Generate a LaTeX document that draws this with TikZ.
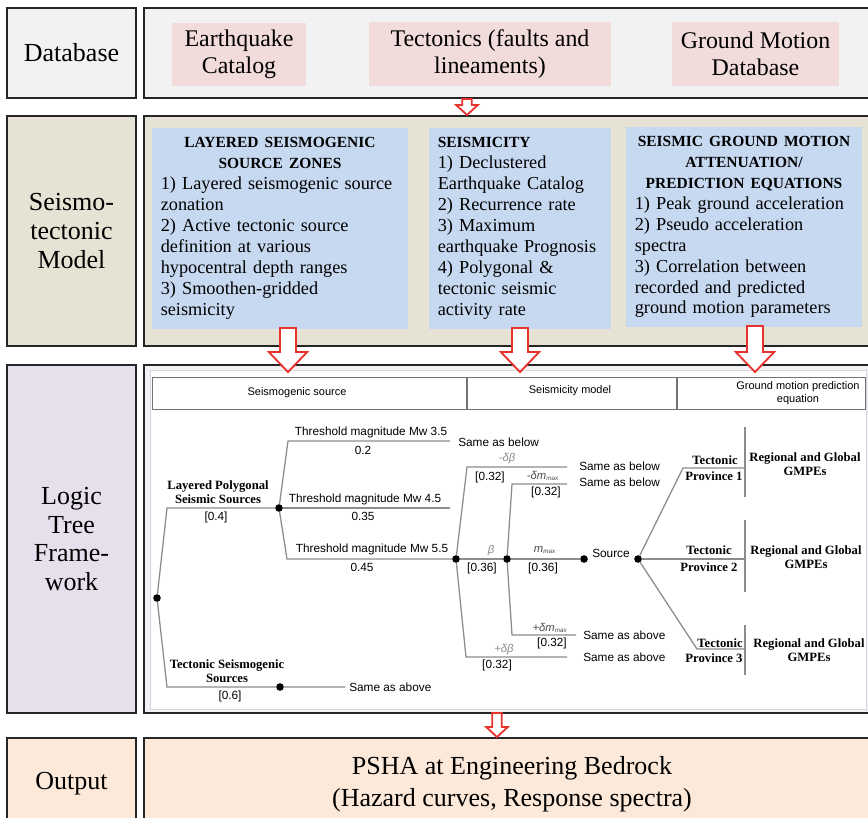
\documentclass[tikz,border=0pt]{standalone}
\usepackage{fontspec}
\setmainfont{Liberation Serif}
\setsansfont{Liberation Sans}
\usetikzlibrary{calc}

\definecolor{dbgray}{HTML}{F2F2F2}
\definecolor{catpink}{HTML}{F2DCDB}
\definecolor{modelbeige}{HTML}{E6E2D4}
\definecolor{zoneblue}{HTML}{C6D9F1}
\definecolor{treelilac}{HTML}{E5E0EC}
\definecolor{outpeach}{HTML}{FDE9D9}
\definecolor{flowred}{HTML}{E8322E}
\definecolor{branchgray}{HTML}{8C8C8C}

\newcommand{\boxtitle}[1]{{\centering\fontsize{11}{14.9}\selectfont\bfseries #1\par}}
\newcommand{\mmax}{m\textsubscript{\fontsize{4.5}{5}\selectfont max}}
% hollow down arrow: top, tip, shaft half width, head half width, head length
\newcommand{\flowarrow}[5]{%
  \draw[redarrow] let \p1=#1, \p2=#2 in
    (\x1-#3,\y1) -- (\x1-#3,\y2+#5) -- (\x1-#4,\y2+#5) -- (\x2,\y2)
    -- (\x1+#4,\y2+#5) -- (\x1+#3,\y2+#5) -- (\x1+#3,\y1) -- cycle;}

\tikzset{
  rowbox/.style={draw=black!85, line width=1.5pt, inner sep=0pt, align=center},
  rowname/.style={rowbox, minimum width=3.225cm, font=\fontsize{18.5}{20.6}\selectfont},
  sourcebox/.style={fill=catpink, inner sep=0pt, minimum height=1.575cm, align=center,
    font=\fontsize{17}{19.2}\selectfont},
  zonebox/.style={fill=zoneblue, inner xsep=0.22cm, inner ysep=0pt, align=left,
    minimum height=5.025cm, font=\fontsize{13}{14.9}\selectfont},
  redarrow/.style={draw=flowred, fill=white, line width=1.3pt, line join=miter},
  hcell/.style={draw=black!55, line width=0.7pt, minimum height=0.8cm, inner sep=0pt},
  hlabel/.style={font=\sffamily\fontsize{7.8}{9}\selectfont, align=center, inner sep=0pt},
  branch/.style={draw=branchgray, line width=0.9pt},
  dot/.style={circle, fill=black, inner sep=0pt, minimum size=0.19cm},
  wt/.style={font=\sffamily\fontsize{8.4}{9.5}\selectfont, inner sep=0pt},
  parm/.style={font=\sffamily\itshape\fontsize{8}{9}\selectfont, text=black!45, inner sep=0pt},
  mpar/.style={font=\sffamily\itshape\fontsize{8}{9}\selectfont, text=black!70, inner sep=0pt},
  brname/.style={font=\bfseries\fontsize{9}{10.3}\selectfont, align=center, inner sep=0pt},
}

\begin{document}
\begin{tikzpicture}[x=0.025cm, y=-0.025cm]
\useasboundingbox (0,0) rectangle (868,817);
\clip (0,0) rectangle (868,817);

% rows
\node[rowname, fill=dbgray, minimum height=2.25cm] (dbL) at (71.5,53) {Database};
\node[rowbox, fill=dbgray, minimum width=18.4cm, minimum height=2.25cm] (dbR) at (512,53) {};
\node[rowname, fill=modelbeige, minimum height=5.75cm] (smL) at (71.5,231) {Seismo-\\tectonic\\Model};
\node[rowbox, fill=modelbeige, minimum width=18.4cm, minimum height=5.75cm] (smR) at (512,231) {};
\node[rowname, fill=treelilac, minimum height=8.7cm] (ltL) at (71.5,539) {Logic\\Tree\\Frame-\\work};
\node[rowbox, fill=treelilac!45, minimum width=18.4cm, minimum height=8.7cm] (ltR) at (512,539) {};
\node[rowname, fill=outpeach, minimum height=2.3cm] (outL) at (71.5,784) {Output};
\node[rowbox, fill=outpeach, minimum width=18.4cm, minimum height=2.3cm,
  font=\fontsize{18.5}{22.8}\selectfont] (outR) at (512,784)
  {PSHA at Engineering Bedrock\\(Hazard curves, Response spectra)};

% data sources
\node[sourcebox, minimum width=3.35cm] (cat) at (239,54.5) {Earthquake\\Catalog};
\node[sourcebox, minimum width=6.05cm] (tect) at (490,54) {Tectonics (faults and\\lineaments)};
\node[sourcebox, minimum width=4.175cm] (gmdb) at (755.5,54) {Ground Motion\\Database};

% model components
\node[zonebox, minimum width=6.4cm, text width=5.96cm] (zones) at (280,228.5) {%
  \boxtitle{LAYERED SEISMOGENIC\\SOURCE ZONES}
  1) Layered seismogenic source\\zonation\\2) Active tectonic source\\
  definition at various\\hypocentral depth ranges\\3) Smoothen-gridded\\seismicity};
\node[zonebox, minimum width=4.55cm, text width=4.11cm] (seis) at (520,228.5) {%
  {\fontsize{11}{14.9}\selectfont\bfseries SEISMICITY}\\
  1) Declustered\\Earthquake Catalog\\2) Recurrence rate\\3) Maximum\\
  earthquake Prognosis\\4) Polygonal \&\\tectonic seismic\\activity rate};
\node[zonebox, minimum width=5.9cm, text width=5.46cm, minimum height=5cm] (gmpe) at (744,227) {%
  \boxtitle{SEISMIC GROUND MOTION\\ATTENUATION/\\PREDICTION EQUATIONS}
  1) Peak ground acceleration\\2) Pseudo acceleration\\spectra\\
  3) Correlation between\\recorded and predicted\\ground motion parameters};

% logic tree panel
\node[draw=treelilac!60!black!35, fill=white, minimum width=17.9cm, minimum height=8.475cm,
  inner sep=0pt] (panel) at (508,539.5) {};
\node[hcell, minimum width=7.85cm] (hsrc) at (310,393) {};
\node[hcell, minimum width=5.25cm] (hsei) at (572,393) {};
\node[hcell, minimum width=4.7cm] (hgm) at (771,393) {};
\node[hlabel] (hsrct) at (297,393) {Seismogenic source};
\node[hlabel] (hseit) at (570,391) {Seismicity model};
\node[hlabel] (hgmt) at (798,393) {Ground motion prediction\\equation};

% flow arrows
\coordinate (ar0s) at (467,99);  \coordinate (ar0e) at (467,115);
\coordinate (ar1s) at (288,328); \coordinate (ar1e) at (288,372);
\coordinate (ar2s) at (520,328); \coordinate (ar2e) at (520,372);
\coordinate (ar3s) at (755,326); \coordinate (ar3e) at (755,372);
\coordinate (ar4s) at (497,713); \coordinate (ar4e) at (497,737);
\flowarrow{(ar0s)}{(ar0e)}{0.12cm}{0.27cm}{0.25cm}
\flowarrow{(ar1s)}{(ar1e)}{0.2cm}{0.48cm}{0.5cm}
\flowarrow{(ar2s)}{(ar2e)}{0.2cm}{0.48cm}{0.5cm}
\flowarrow{(ar3s)}{(ar3e)}{0.2cm}{0.48cm}{0.5cm}
\flowarrow{(ar4s)}{(ar4e)}{0.12cm}{0.27cm}{0.25cm}

% tree nodes
\node[dot] (root) at (157,598) {};
\node[dot] (lps) at (279,508) {};
\node[dot] (tss) at (280,687) {};
\node[dot] (mw55) at (456,559) {};
\node[dot] (beta) at (507,559) {};
\node[dot] (mmax) at (584,559) {};
\node[dot] (src) at (638,559) {};
\node[wt] (srcname) at (611,553) {Source};

\node[wt, anchor=west] (same1) at (458,442) {Same as below};
\node[wt, anchor=west] (same2) at (579,466) {Same as below};
\node[wt, anchor=west] (same3) at (579,482) {Same as below};
\node[wt, anchor=west] (same4) at (583,635) {Same as above};
\node[wt, anchor=west] (same5) at (583,657) {Same as above};
\node[wt, anchor=west] (same6) at (349,687) {Same as above};

\coordinate (lpsk) at (167,508);
\coordinate (tssk) at (167,687);
\coordinate (m35k) at (288,441);
\coordinate (m45e) at (450,508);
\coordinate (m55k) at (287,559);
\coordinate (dbmk) at (467,467);
\coordinate (dbpk) at (466,657);
\coordinate (dmmk) at (512,484);
\coordinate (dmpk) at (512,635);
\coordinate (tp1k) at (683,468);
\coordinate (tp3k) at (697,649);
\coordinate (tp1) at (745,468);
\coordinate (tp2) at (745,559);
\coordinate (tp3) at (745,649);

% branches
\draw[branch] (root) -- (lpsk) -- (lps);
\draw[branch, shorten >=0.1cm] (root) -- (tssk) -- (tss) -- (tss -| same6.west);
\draw[branch, shorten >=0.2cm] (lps) -- (m35k) -- (m35k -| same1.west);
\draw[branch] (lps) -- (m45e);
\draw[branch] (lps) -- (m55k) -- (mw55);
\draw[branch, shorten >=0.3cm] (mw55) -- (dbmk) -- (dbmk -| same2.west);
\draw[branch] (mw55) -- (beta);
\draw[branch, shorten >=0.4cm] (mw55) -- (dbpk) -- (dbpk -| same5.west);
\draw[branch, shorten >=0.3cm] (beta) -- (dmmk) -- (dmmk -| same3.west);
\draw[branch] (beta) -- (mmax);
\draw[branch, shorten >=0.175cm] (beta) -- (dmpk) -- (dmpk -| same4.west);
\draw[branch] (src) -- (tp1k) -- (tp1);
\draw[branch] (src) -- (tp2);
\draw[branch] (src) -- (tp3k) -- (tp3);
\draw[branch] (745,427) -- (745,497);
\draw[branch] (745,520) -- (745,592);
\draw[branch] (745,625) -- (745,675);

% branch labels
\node[brname] (lpsname) at (218,492) {Layered Polygonal\\Seismic Sources};
\node[wt] (lpsw) at (216,517) {[0.4]};
\node[brname] (tssname) at (227,671) {Tectonic Seismogenic\\Sources};
\node[wt] (tssw) at (230,696) {[0.6]};
\node[wt] (m35) at (371,432) {Threshold magnitude Mw 3.5};
\node[wt] (m35w) at (363,450) {0.2};
\node[wt] (m45) at (365,499) {Threshold magnitude Mw 4.5};
\node[wt] (m45w) at (363,516) {0.35};
\node[wt] (m55) at (372,549) {Threshold magnitude Mw 5.5};
\node[wt] (m55w) at (362,567) {0.45};
\node[parm] (dbm) at (507,459) {-δβ};
\node[wt] (dbmw) at (490,477) {[0.32]};
\node[parm] (bt) at (491,551) {β};
\node[wt] (btw) at (482,568) {[0.36]};
\node[parm] (dbp) at (504,650) {+δβ};
\node[wt] (dbpw) at (497,665) {[0.32]};
\node[mpar] (dmm) at (543,476) {-δ\mmax};
\node[wt] (dmmw) at (546,492) {[0.32]};
\node[mpar] (mm) at (545,550) {\mmax};
\node[wt] (mmw) at (543,568) {[0.36]};
\node[mpar] (dmp) at (550,628) {+δ\mmax};
\node[wt] (dmpw) at (552,643) {[0.32]};

\node[brname] (tp1a) at (715,460) {Tectonic};
\node[brname] (tp1b) at (714,476) {Province 1};
\node[brname] (tp2a) at (709,550) {Tectonic};
\node[brname] (tp2b) at (709,567) {Province 2};
\node[brname] (tp3a) at (720,643) {Tectonic};
\node[brname] (tp3b) at (714,658) {Province 3};
\node[brname] (gm1) at (805,464) {Regional and Global\\GMPEs};
\node[brname] (gm2) at (806,557) {Regional and Global\\GMPEs};
\node[brname] (gm3) at (809,650) {Regional and Global\\GMPEs};
\end{tikzpicture}
\end{document}
